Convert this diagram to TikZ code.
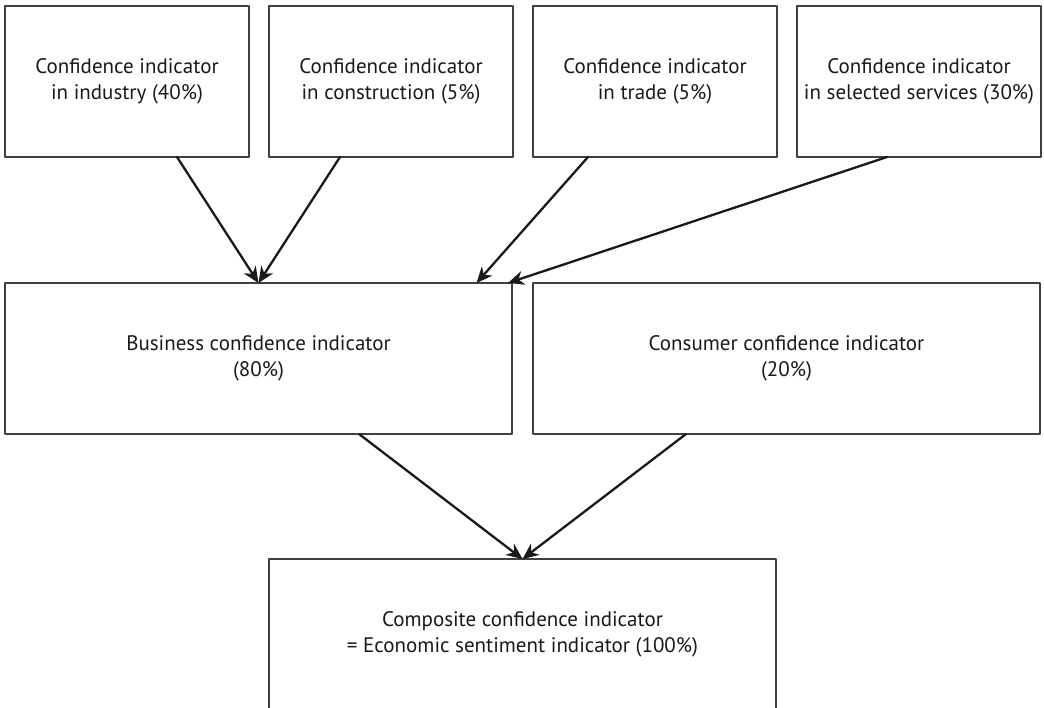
\documentclass[tikz,border=0pt]{standalone}
\usepackage{fontspec}
\setmainfont{PT Sans}
\usetikzlibrary{arrows.meta,calc}

\tikzset{
	box/.style={draw=black!75, line width=1.3pt, minimum width=244pt, minimum height=151pt,
		inner sep=0pt, outer sep=0pt, align=center, text=black!90,
		font=\fontsize{21}{25.5}\selectfont},
	widebox/.style={box, minimum width=507pt},
	link/.style={-{Stealth[length=16pt,width=14pt,inset=5pt]}, line width=2.3pt, black!90}
}

\begin{document}
\begin{tikzpicture}[x=1pt, y=-1pt, line cap=round, line join=round]
			\clip (0, 0) rectangle (1044, 707);
			% top row
			\node[box] (ind) at (127, 81.5) {Confidence indicator\\in industry (40\%)};
			\node[box] (cons) at (391, 81.5) {Confidence indicator\\in construction (5\%)};
			\node[box] (trade) at (655, 81.5) {Confidence indicator\\in trade (5\%)};
			\node[box] (serv) at (919, 81.5) {Confidence indicator\\in selected services (30\%)};
			% middle row
			\node[widebox] (bus) at (258.5, 358.5) {Business confidence indicator\\(80\%)};
			\node[widebox] (consu) at (786.5, 358.5) {Consumer confidence indicator\\(20\%)};
			% bottom
			\node[widebox] (comp) at (522.5, 634.5) {Composite confidence indicator\\= Economic sentiment indicator (100\%)};
			\draw[link] ($(ind.south)+(50, 0)$) -- (bus.north);
			\draw[link] ($(cons.south)+(-51, 0)$) -- (bus.north);
			\draw[link] ($(trade.south)+(-67, 0)$) -- ($(bus.north)+(218, 0)$);
			\draw[link] ($(serv.south)+(-32, 0)$) -- ($(bus.north east)+(-4, 0)$);
			\draw[link] ($(bus.south)+(100.5, 0)$) -- (comp.north);
			\draw[link] ($(consu.south)+(-100.5, 0)$) -- (comp.north);
		\end{tikzpicture}
\end{document}
